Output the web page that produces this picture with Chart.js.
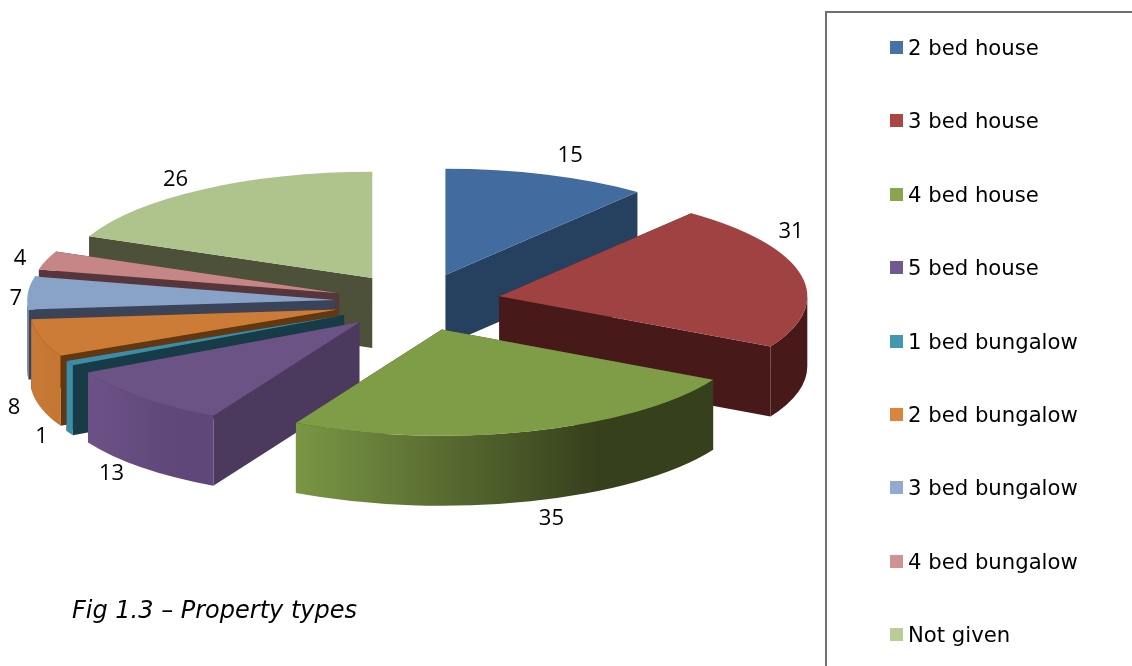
<!DOCTYPE html>
<html>
<head>
<meta charset="utf-8">
<title>Property types</title>
<script src="https://cdn.jsdelivr.net/npm/chart.js@4/dist/chart.umd.min.js"></script>
<style>
  html, body { margin: 0; padding: 0; background: #fff; overflow: hidden; }
  #wrap { position: relative; width: 1132px; height: 666px; overflow: hidden; }
  #pie { position: absolute; left: 0; top: 0; }
  #legendBox {
    position: absolute; left: 825px; top: 11px; width: 400px; height: 800px;
    border: 2px solid #707070; box-sizing: border-box;
  }
  .legendRow {
    position: absolute; left: 890px; height: 26px; line-height: 26px; white-space: nowrap;
    font: 21.2px 'DejaVu Sans', sans-serif; color: #000;
  }
  .legendRow i { position: absolute; left: 0; top: 6px; width: 13px; height: 13px; }
  .legendRow span { position: absolute; left: 18px; top: 0; }
  #caption {
    position: absolute; left: 72px; top: 596px; white-space: nowrap;
    font: italic 24px 'DejaVu Sans', sans-serif; color: #000;
  }
</style>
</head>
<body>
<div id="wrap">
  <canvas id="pie" width="1132" height="666"></canvas>
  <div id="legendBox"></div>
  <div id="caption">Fig 1.3 – Property types</div>
</div>
<script>
  // Values
  const categories = ['2 bed house', '3 bed house', '4 bed house', '5 bed house', '1 bed bungalow', '2 bed bungalow', '3 bed bungalow', '4 bed bungalow', 'Not given'];
  const values = [15, 31, 35, 13, 1, 8, 7, 4, 26];

  // Colours: flat top face, cut faces, outer rim (left, right) and legend key
  const topColors = ['#426C9F', '#A04241', '#7F9D47', '#6C5386', '#3D8DA6', '#CC7C36', '#89A2C8', '#C58685', '#AFC48C'];
  const faceColors = ['#264160', '#471A19', '#36401D', '#4C3A5E', '#183B48', '#63370F', '#3A4357', '#56363A', '#4D513A'];
  const rimLeft = ['#264160', '#471A19', '#7A9644', '#6C5186', '#3D8DA6', '#C87B38', '#5B7499', '#C58685', '#AFC48C'];
  const rimRight = ['#264160', '#471A19', '#36401D', '#5F4779', '#3D8DA6', '#C47633', '#5B7499', '#C58685', '#AFC48C'];
  const keyColors = ['#4573A7', '#AA4644', '#89A54E', '#71588F', '#4298AF', '#DB843D', '#93A9CF', '#D19392', '#B9CD96'];

  // Label offsets from the outer middle of each slice
  const labelNudgeX = [23, -10, 21, -30, -28, -27, -12, -26, -27];
  const labelNudgeY = [-19, -43, 88, 76, 73, 70, 6, -2, -10];

  // Legend
  const wrap = document.getElementById('wrap');
  categories.forEach(function (name, i) {
    const row = document.createElement('div');
    row.className = 'legendRow';
    row.style.top = (35 + i * 73.4) + 'px';
    row.innerHTML = '<i style="background:' + keyColors[i] + '"></i><span>' + name + '</span>';
    wrap.appendChild(row);
  });

  // Tilted, exploded pie: the library lays out the arcs, this draws them in 3D
  const tiltPlugin = {
    id: 'tilt',
    beforeDatasetsDraw(chart, args, opts) {
      const ctx = chart.ctx;
      const arcs = chart.getDatasetMeta(0).data;
      const s = opts.squash;
      const depth = opts.depth;

      const parts = arcs.map(function (arc, i) {
        const mid = (arc.startAngle + arc.endAngle) / 2;
        return {
          arc: arc,
          i: i,
          mid: mid,
          ox: opts.centerX + Math.cos(mid) * opts.explode,
          oy: opts.centerY + Math.sin(mid) * opts.explode * s,
        };
      });

      // back slices first
      parts.slice().sort((a, b) => a.oy - b.oy).forEach(function (p) {
        const arc = p.arc;
        const R = arc.outerRadius;
        const ry = R * s;

        // cut faces
        ctx.fillStyle = faceColors[p.i];
        [arc.startAngle, arc.endAngle].forEach(function (a) {
          const ex = p.ox + Math.cos(a) * R;
          const ey = p.oy + Math.sin(a) * ry;
          ctx.beginPath();
          ctx.moveTo(p.ox, p.oy);
          ctx.lineTo(ex, ey);
          ctx.lineTo(ex, ey + depth);
          ctx.lineTo(p.ox, p.oy + depth);
          ctx.closePath();
          ctx.fill();
        });

        // outer rim, only the front half of the ellipse shows
        const a0 = Math.max(arc.startAngle, 0);
        const a1 = Math.min(arc.endAngle, Math.PI);
        if (a1 > a0) {
          const xl = p.ox + Math.cos(a1) * R;
          const xr = p.ox + Math.cos(a0) * R;
          const grad = ctx.createLinearGradient(xl, 0, xr, 0);
          grad.addColorStop(0, rimLeft[p.i]);
          grad.addColorStop(0.72, rimRight[p.i]);
          grad.addColorStop(1, rimRight[p.i]);
          ctx.fillStyle = grad;
          ctx.beginPath();
          ctx.ellipse(p.ox, p.oy, R, ry, 0, a0, a1);
          ctx.ellipse(p.ox, p.oy + depth, R, ry, 0, a1, a0, true);
          ctx.closePath();
          ctx.fill();
        }

        // top face is the library's own arc, squashed and moved
        ctx.save();
        ctx.translate(p.ox, p.oy);
        ctx.scale(1, s);
        ctx.translate(-arc.x, -arc.y);
        arc.draw(ctx);
        ctx.restore();
      });

      // value labels
      ctx.fillStyle = '#000';
      ctx.font = "22px 'Open Sans', sans-serif";
      ctx.textAlign = 'center';
      ctx.textBaseline = 'middle';
      parts.forEach(function (p) {
        const R = p.arc.outerRadius;
        const x = p.ox + Math.cos(p.mid) * R + labelNudgeX[p.i];
        const y = p.oy + Math.sin(p.mid) * R * s + labelNudgeY[p.i];
        ctx.fillText(String(values[p.i]), x, y);
      });
      return false;
    },
  };

  new Chart(document.getElementById('pie'), {
    type: 'pie',
    data: {
      labels: categories,
      datasets: [
        {
          data: values,
          backgroundColor: topColors,
          borderWidth: 0,
        },
      ],
    },
    options: {
      responsive: false,
      animation: false,
      radius: 308,
      events: [],
      plugins: {
        legend: { display: false },
        tooltip: { enabled: false },
        tilt: { centerX: 418, centerY: 302, squash: 0.345, explode: 83, depth: 70 },
      },
    },
    plugins: [tiltPlugin],
  });
</script>
</body>
</html>
